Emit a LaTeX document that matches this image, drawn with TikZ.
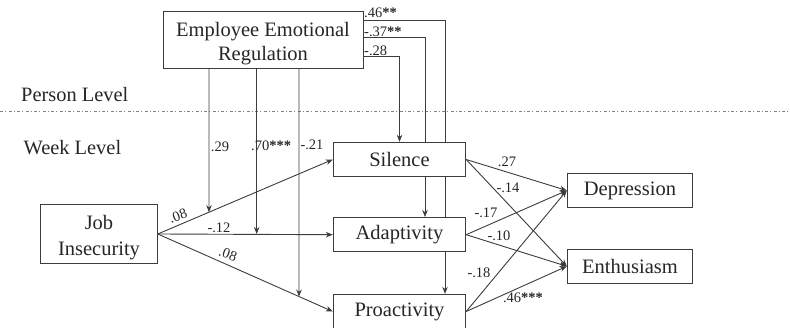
\documentclass[tikz,border=0pt]{standalone}
\usepackage{fontspec}
\setmainfont{Liberation Serif}
\usetikzlibrary{arrows.meta,backgrounds,calc}
\definecolor{ink}{HTML}{262626}
\definecolor{edge}{HTML}{3C3C3C}
\begin{document}
\begin{tikzpicture}[x=1pt,y=-1pt,
  box/.style={draw=edge,line width=1pt,fill=white,inner sep=0pt,text=ink,
    font=\fontsize{20.5}{24}\selectfont,align=center},
  btxt/.style={inner sep=0pt,text=ink,font=\fontsize{20.5}{24}\selectfont,align=center},
  conn/.style={draw=edge,line width=0.9pt},
  arr/.style={conn,-{Stealth[length=7pt,width=5.5pt]}},
  lab/.style={text=ink,inner sep=0pt,font=\fontsize{14.5}{16}\selectfont},
  lev/.style={text=ink,inner sep=0pt,anchor=west,font=\fontsize{20.4}{24}\selectfont}]
\useasboundingbox (0,0) rectangle (790,328);
% nodes
\node[box,minimum width=200pt,minimum height=57pt] (eer) at (263,40.5) {};
\node[btxt] (eert) at ([yshift=-3pt]eer.center) {Employee Emotional\\Regulation};
\node[box,minimum width=116.6pt,minimum height=58.3pt] (ji) at (99,234) {};
\node[btxt] (jit) at ([yshift=-3.5pt]ji.center) {Job\\[2pt]Insecurity};
\node[box,minimum width=132.4pt,minimum height=34.4pt] (sil) at (399.5,159.5) {Silence};
\node[box,minimum width=132.4pt,minimum height=34.4pt] (ada) at (399.5,234.7) {Adaptivity};
\node[box,minimum width=132.4pt,minimum height=34.4pt] (pro) at (399.5,311.5) {Proactivity};
\node[box,minimum width=125.4pt,minimum height=34.4pt] (dep) at (630,190.5) {Depression};
\node[box,minimum width=125.4pt,minimum height=34.4pt] (ent) at (630,266.3) {Enthusiasm};
% level labels
\node[lev] (pl) at (21,95) {Person Level};
\node[lev] (wl) at (23.5,148) {Week Level};
\begin{pgfonlayer}{background}
\coordinate (dl) at (0,111.7);
\coordinate (dr) at (790,111.7);
\draw[draw=gray,line width=1pt,dash pattern=on 3pt off 2pt on 1pt off 2.5pt] (dl) -- (dr);
% person-level paths
\draw[arr] ([yshift=-9pt]eer.north east) -| ([xshift=45.5pt]pro.north);
\draw[arr] ([yshift=-26pt]eer.north east) -| ([xshift=25.5pt]ada.north);
\draw[arr] ([yshift=-44.5pt]eer.north east) -| (sil.north);
% job insecurity paths
\draw[arr] (ji.east) -- (sil.west);
\draw[arr] (ji.east) -- (ada.west);
\draw[arr] (ji.east) -- (pro.west);
% moderators
\coordinate (m1) at (209,69);
\coordinate (m2) at (256.7,69);
\coordinate (m3) at (299,69);
\coordinate (m1b) at (209,300);
\coordinate (m3b) at (299,330);
\draw[arr] (m1) -- (intersection of ji.east--sil.west and m1--m1b);
\draw[arr] (m2) -- (m2 |- ji.east);
\draw[arr] (m3) -- (intersection of ji.east--pro.west and m3--m3b);
% outcomes
\draw[arr] (sil.east) -- (dep.west);
\draw[arr] (sil.east) -- (ent.west);
\draw[arr] (ada.east) -- (dep.west);
\draw[arr] (ada.east) -- (ent.west);
\draw[arr] (pro.east) -- (dep.west);
\draw[arr] (pro.east) -- (ent.west);
\end{pgfonlayer}
% labels
\node[lab,anchor=west] (l1) at (364,13) {.46\textbf{**}};
\node[lab,anchor=west] (l2) at (364,31.5) {-.37\textbf{**}};
\node[lab,anchor=west] (l3) at (364,50.5) {-.28};
\node[lab] (l4) at (220,147) {.29};
\node[lab,anchor=west] (l5) at (251,146) {.70\textbf{***}};
\node[lab] (l6) at (312,145) {-.21};
\node[lab,rotate=20] (l7) at (178,216) {.08};
\node[lab] (l8) at (219,228) {-.12};
\node[lab,rotate=-20] (l9) at (228,254) {.08};
\node[lab] (l10) at (507,162) {.27};
\node[lab] (l11) at (508,188) {-.14};
\node[lab] (l12) at (486,213) {-.17};
\node[lab] (l13) at (499,236) {-.10};
\node[lab] (l14) at (479,273) {-.18};
\node[lab] (l15) at (523,298) {.46\textbf{***}};
\end{tikzpicture}
\end{document}
